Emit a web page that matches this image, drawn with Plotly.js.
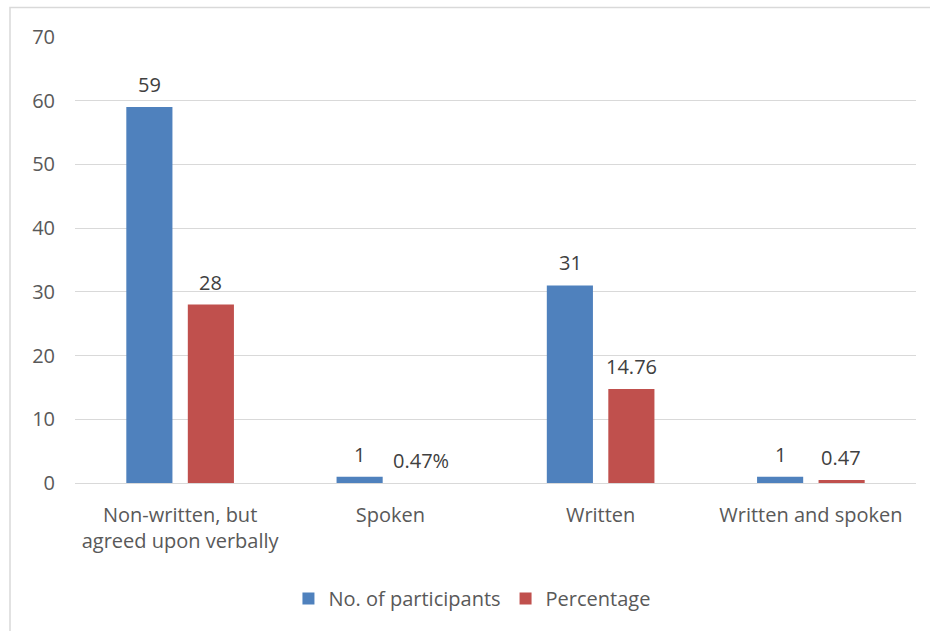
<!DOCTYPE html>
<html><head><meta charset="utf-8">
<script src="https://cdn.plot.ly/plotly-3.0.1.min.js"></script>
<style>html,body{margin:0;padding:0;background:#fff;}#chart{width:930px;height:631px;}</style>
</head><body><div id="chart"></div>
<script>
const categories = ["Non-written, but<br>agreed upon verbally", "Spoken", "Written", "Written and spoken"];
const participants = [59, 1, 31, 1];
const participantLabels = ["59", "1", "31", "1"];
const percentage = [28, 0, 14.76, 0.47];
const percentageLabels = ["28", "0.47%", "14.76", "0.47"];
const yTicks = [0, 10, 20, 30, 40, 50, 60, 70];

const font = "'Open Sans', sans-serif";
const fs = 20;
const traces = [
  {type: 'bar', name: 'No. of participants', x: categories, y: participants,
   marker: {color: '#4F81BD'}},
  {type: 'bar', name: 'Percentage', x: categories, y: percentage,
   marker: {color: '#C0504D'}}
];
const annotations = [];
categories.forEach((c, i) => {
  annotations.push({x: c, y: participants[i], xref: 'x', yref: 'y', text: participantLabels[i],
    showarrow: false, yanchor: 'bottom', xshift: -30.5, yshift: 7,
    font: {family: font, size: fs, color: '#404040'}});
  annotations.push({x: c, y: percentage[i], xref: 'x', yref: 'y', text: percentageLabels[i],
    showarrow: false, yanchor: 'bottom', xshift: 30.5, yshift: 7,
    font: {family: font, size: fs, color: '#404040'}});
});
const layout = {
  width: 930, height: 631,
  margin: {l: 75, r: 14, t: 37, b: 148},
  paper_bgcolor: '#fff', plot_bgcolor: '#fff',
  font: {family: font, size: fs, color: '#595959'},
  barmode: 'group', bargap: 0.415, bargroupgap: 0.25,
  showlegend: true,
  legend: {orientation: 'h', x: 0.472, xanchor: 'center', y: -0.215, yanchor: 'top',
           font: {family: font, size: fs, color: '#595959'}, itemwidth: 30, traceorder: 'normal'},
  xaxis: {showgrid: false, showline: false, ticks: '', ticklabelstandoff: 18,
          tickfont: {family: font, size: fs, color: '#595959'}},
  yaxis: {range: [0, 70], tickvals: yTicks, ticktext: yTicks.map(String), showgrid: true, gridcolor: '#d9d9d9',
          gridwidth: 1, zeroline: true, zerolinecolor: '#d9d9d9', zerolinewidth: 1, showline: false,
          ticks: '', ticklabelstandoff: 19, tickfont: {family: font, size: fs, color: '#595959'}},
  annotations: annotations,
  shapes: [{type: 'rect', xref: 'paper', yref: 'paper',
            x0: (10 - 75) / 841, x1: (940 - 75) / 841,
            y0: (483 - 640) / 446, y1: (483 - 7.5) / 446,
            line: {color: '#d9d9d9', width: 1.5}, fillcolor: 'rgba(0,0,0,0)', layer: 'below'}]
};
Plotly.newPlot('chart', traces, layout, {displayModeBar: false, staticPlot: true});
</script></body></html>
